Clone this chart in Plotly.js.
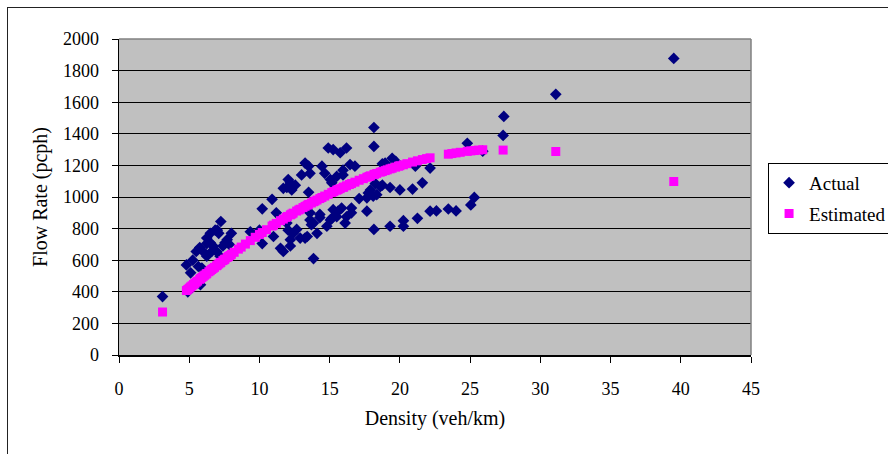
<!DOCTYPE html>
<html>
<head>
<meta charset="utf-8">
<script src="https://cdn.plot.ly/plotly-3.0.1.min.js"></script>
<style>
  html, body { margin: 0; padding: 0; background: #ffffff; }
  #wrap { position: relative; width: 888px; height: 454px; overflow: hidden; }
  #chart { width: 888px; height: 454px; }
  #frame { position: absolute; left: 7px; top: 7px; width: 900px; height: 460px;
           border-left: 1.5px solid #222; border-top: 1.5px solid #222; pointer-events: none; }
</style>
</head>
<body>
<div id="wrap">
  <div id="chart"></div>
  <div id="frame"></div>
</div>
<script>
// ---- Data ----
const actualDensity = [3.1,4.8,4.9,5.1,5.25,5.5,5.65,5.75,5.8,5.9,5.9,6.1,6.25,6.25,6.25,6.5,6.5,6.6,6.7,6.85,6.95,7.0,7.1,7.25,7.4,7.55,7.7,8.0,7.2,5.6,7.85,
  9.35,10.0,10.2,10.2,10.9,11.0,11.2,11.5,11.7,11.7,11.95,12.05,12.2,12.3,12.55,11.95,12.05,12.2,12.2,12.4,12.65,12.9,13.0,13.25,13.5,13.6,13.5,13.25,13.4,13.6,13.6,13.7,13.85,13.85,14.1,14.3,14.3,14.45,14.65,14.8,14.9,
  15.05,15.05,15.15,15.15,15.25,15.25,15.5,15.5,15.6,15.75,15.85,15.95,15.95,16.1,16.2,16.2,16.45,16.55,16.55,16.8,17.1,17.65,17.65,17.75,17.9,18.1,18.15,18.15,18.15,18.25,18.35,18.6,18.75,18.75,18.95,19.3,19.3,19.45,19.7,20.0,20.25,20.25,
  20.9,21.1,21.25,21.6,22.15,22.15,22.6,23.45,24.0,24.8,25.05,25.3,25.9,27.35,27.4,31.1,39.5];
const actualFlow = [370,570,400,520,600,655,560,680,445,550,500,645,740,705,625,770,710,655,690,790,655,790,770,845,690,710,730,770,625,470,700,
  780,790,925,705,985,750,900,675,655,1055,1060,1110,1090,1045,1075,835,790,730,690,770,795,740,1140,1215,1195,1150,1030,740,750,855,900,825,610,835,770,870,890,1195,1150,815,1310,
  1110,855,1090,865,1300,920,1130,875,910,1280,930,1140,1170,835,1310,875,1205,930,900,1195,990,910,995,1025,1045,1005,1440,1320,795,1085,1015,1065,1075,1210,1215,1060,815,1245,1225,1045,815,850,
  1050,1195,865,1090,1183,910,912,924,912,1340,950,997,1290,1390,1510,1650,1877];

const estDensity = [3.1,4.8,4.9,5.0,5.1,5.2,5.3,5.4,5.5,5.6,5.75,5.8,5.9,6.0,6.1,6.2,6.25,6.4,6.5,6.6,6.7,6.8,6.95,7.0,7.1,7.2,7.25,7.4,7.5,7.55,7.7,7.8,7.9,8.0,
  8.2,8.5,8.7,9.0,9.35,9.7,10.0,10.2,10.5,10.9,11.0,11.2,11.5,11.7,11.9,12.0,12.2,12.3,12.4,12.65,12.8,12.9,13.1,13.25,13.4,13.5,13.7,13.85,13.95,14.1,14.3,14.45,14.65,14.9,
  15.15,15.3,15.5,15.6,15.75,15.95,16.0,16.2,16.4,16.55,16.8,17.1,17.4,17.65,17.8,17.9,18.15,18.2,18.35,18.6,18.75,18.95,19.1,19.3,19.45,19.7,19.9,20.0,20.25,20.5,
  20.9,21.25,21.6,21.9,22.15,23.45,23.7,24.0,24.3,24.8,25.05,25.3,25.6,25.9,27.35,31.1,39.5];
const estFlow = [272,408,415,423,431,438,446,453,461,468,479,483,490,498,505,512,516,527,534,541,548,555,565,569,576,583,586,597,603,607,617,624,630,637,
  650,670,683,702,724,745,763,775,793,816,822,833,850,860,871,877,887,892,898,911,918,923,933,941,948,953,962,970,974,981,990,997,1006,1017,
  1028,1035,1043,1047,1053,1061,1063,1071,1079,1085,1094,1106,1116,1125,1130,1134,1142,1144,1149,1157,1161,1167,1172,1178,1182,1189,1195,1198,1204,1211,
  1221,1229,1237,1243,1248,1271,1275,1279,1283,1289,1292,1294,1297,1299,1297,1288,1098];

const seriesNames = ['Actual', 'Estimated'];
const xTickVals = [0,5,10,15,20,25,30,35,40,45];
const yTickVals = [0,200,400,600,800,1000,1200,1400,1600,1800,2000];

const serif = 'Liberation Serif, Times New Roman, serif';

const traces = [
  { x: actualDensity, y: actualFlow, name: seriesNames[0], legendgroup: 'a', type: 'scatter', mode: 'markers',
    marker: { symbol: 'diamond', size: 9, color: '#000080', line: { width: 0 } } },
  { x: estDensity, y: estFlow, name: seriesNames[1], legendgroup: 'b', type: 'scatter', mode: 'markers',
    marker: { symbol: 'square', size: 9, color: '#FF00FF', line: { width: 0 } } }
];

const layout = {
  width: 888, height: 454,
  margin: { l: 119, r: 137, t: 39, b: 99, pad: 0, autoexpand: false },
  paper_bgcolor: '#ffffff',
  plot_bgcolor: '#C0C0C0',
  font: { family: serif, size: 18, color: '#000000' },
  showlegend: true,
  legend: {
    x: 1.027, xanchor: 'left', y: 0.608, yanchor: 'top',
    bgcolor: '#ffffff', bordercolor: '#000000', borderwidth: 1,
    font: { family: serif, size: 19, color: '#000000' },
    itemwidth: 30, tracegroupgap: 3
  },
  xaxis: {
    range: [0, 45], tickvals: xTickVals, ticktext: xTickVals.map(String),
    showgrid: false, zeroline: false,
    showline: true, linecolor: '#000000', linewidth: 1.5,
    ticks: 'outside', ticklen: 6, tickwidth: 1, tickcolor: '#000000',
    ticklabelstandoff: 11,
    tickfont: { family: serif, size: 18, color: '#000000' },
    title: { text: 'Density (veh/km)', font: { family: serif, size: 20, color: '#000000' }, standoff: 13 },
    fixedrange: true
  },
  yaxis: {
    range: [0, 2000], tickvals: yTickVals, ticktext: yTickVals.map(String),
    showgrid: true, gridcolor: '#000000', gridwidth: 1,
    zeroline: false,
    showline: true, linecolor: '#000000', linewidth: 1.5,
    ticks: 'outside', ticklen: 6, tickwidth: 1, tickcolor: '#000000',
    ticklabelstandoff: 9,
    tickfont: { family: serif, size: 18, color: '#000000' },
    title: { text: 'Flow Rate (pcph)', font: { family: serif, size: 20, color: '#000000' }, standoff: 10 },
    fixedrange: true
  },
  shapes: [
    { type: 'line', xref: 'paper', yref: 'paper', x0: 0, x1: 1, y0: 1, y1: 1,
      line: { color: '#808080', width: 1.5 }, layer: 'above' },
    { type: 'line', xref: 'paper', yref: 'paper', x0: 1, x1: 1, y0: 0, y1: 1,
      line: { color: '#808080', width: 1.5 }, layer: 'above' }
  ]
};

Plotly.newPlot('chart', traces, layout, { displayModeBar: false, staticPlot: true });
</script>
</body>
</html>
